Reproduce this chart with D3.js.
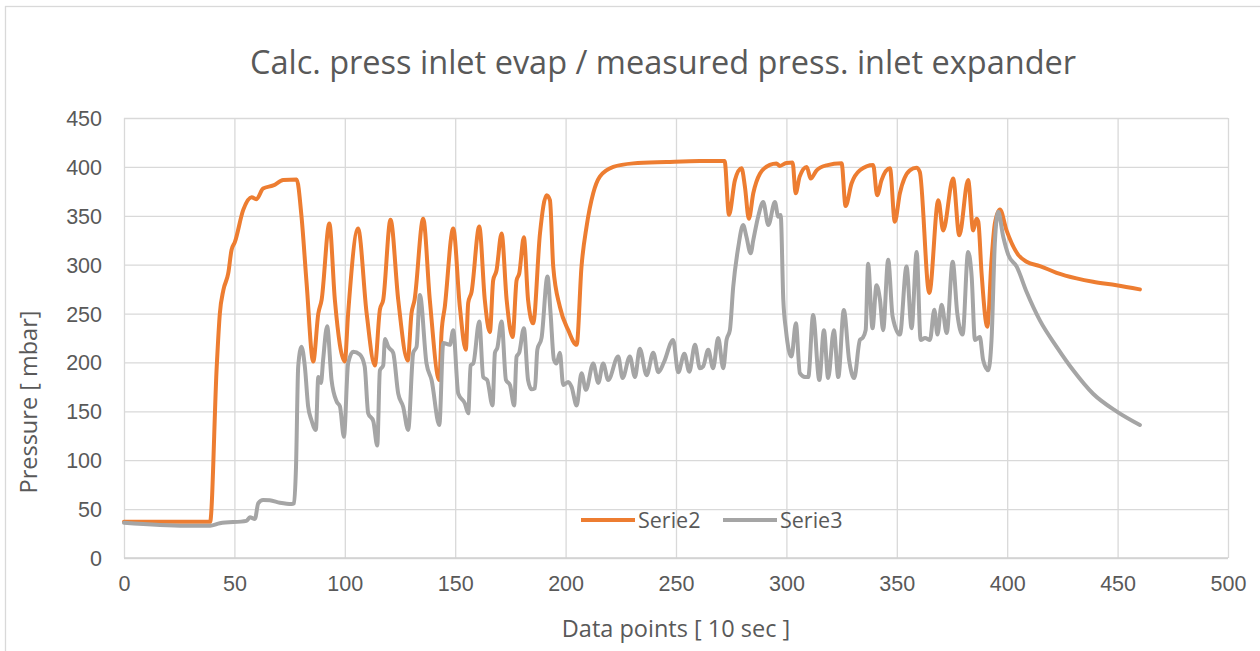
<!DOCTYPE html>
<html>
  <head>
    <meta charset="utf-8">
    <script src="https://cdn.jsdelivr.net/npm/d3@7"></script>
    <title>Calc. press inlet evap</title>
    <style type="text/css">
      body { margin: 0; background: #fff; }
      svg { display: block; font-family: 'Open Sans', sans-serif; }
      .grid line { stroke: #d9d9d9; stroke-width: 1.3; }
      .grid path { display: none; }
      .tick text { fill: #595959; }
      .series { fill: none; stroke-width: 4; stroke-linejoin: round; stroke-linecap: round; }
    </style>
  </head>
  <body>
    <div id="chart"></div>
    <script type="text/javascript">
      var title = "Calc. press inlet evap / measured press. inlet expander",
          xTitle = "Data points [ 10 sec ]",
          yTitle = "Pressure [ mbar]";

      var xTicks = [0, 50, 100, 150, 200, 250, 300, 350, 400, 450, 500],
          yTicks = [0, 50, 100, 150, 200, 250, 300, 350, 400, 450];

      var seriesNames = ["Serie2", "Serie3"],
          seriesColors = ["#ed7d31", "#a5a5a5"];

      // [data point, pressure]
      var serie2 = [[0,37],[39,37],[42,196],[43.4,250],[45,274],[47.2,291],[48.7,315],[50.2,323],[54,356],
        [57.8,369],[60,367],[63,378],[67.6,381],[72.1,386.5],[78.2,387],[80.4,349],[82.7,281],[85.7,201],
        [88,250],[89.5,264],[93,342],[95.5,264],[100,201],[101.5,250],[106,337],[109.9,250],[113.6,197],
        [115.9,254],[117.4,264],[120.7,346],[124.2,264],[128.5,202],[130.2,250],[131.6,264],[135.5,347],
        [138.5,264],[142.8,182],[143.8,230],[145.3,257],[149.1,337],[152.1,257],[154.8,213],[155.9,261],
        [157.4,272],[160.9,339],[163.4,264],[165.7,231],[167.2,284],[168.7,294],[171,332],[173.3,264],
        [176,226],[177.8,284],[179,291],[181.1,328],[183,264],[185.3,240],[188.4,332],[191.4,371],
        [192.9,366],[194.4,298],[197.4,257],[201.2,233],[205,218],[207.2,298],[209.5,339],[212.5,373],
        [215.5,390],[221.6,400],[230.6,403.6],[245.7,405],[260.8,406],[272,406],[274,351],[276.7,386.5],
        [279.7,398.5],[281.2,380],[283,347],[285,373],[288,393],[292.5,402],[295.5,403.5],[297,401],
        [300,404],[302.8,404.5],[304.2,373],[306,390],[309.2,400],[311,388],[313.7,396.5],[318.2,401.6],
        [325,403.6],[326.8,360],[329.5,383],[333.3,396.5],[339.3,402],[341.1,371],[343.1,386.5],
        [346.9,398.5],[349.1,344],[351.4,373],[355.9,396.5],[358.9,399],[360.4,395],[364.7,271],
        [368.8,366],[371,335],[375.5,388],[378.3,330],[382.3,386.5],[384.6,335],[386.1,347],[386.9,344],
        [388.4,291],[391,236.5],[392.9,304.7],[394.4,342],[396.7,356.5],[399.7,335],[405,310],[408.8,303],
        [414.8,298.6],[422.4,291.7],[431.4,286],[438.9,282.5],[449.5,279],[460.1,274.7]];

      var serie3 = [[0,36],[28,33],[39,33],[43.4,35.5],[55.5,38],[57,41.6],[59.3,40],[60.8,56],[63,59.3],
        [66,59],[70.6,56.6],[75.9,55.2],[77,56],[77.9,93],[78.9,196],[80.4,216],[81.9,196],[83.4,155],
        [84.9,141],[86.9,131],[88,185],[89.2,179],[90.2,203],[92,237],[94,182],[96.3,160],[97.8,155],
        [99.6,124],[101.5,199],[103.8,211],[106.8,208],[109,196],[110.6,148],[112.9,140],[114.7,115],
        [115.9,192],[117.4,197],[118.2,224],[119.7,216],[121.9,210],[124.2,168],[126.4,155],[128.7,131],
        [131,210],[132.5,216],[134,269],[137,199],[139.3,182],[142.8,136],[144.6,220],[147.6,218],
        [149.1,233],[151.4,168],[154.4,158],[155.9,148],[157,197],[158.2,199],[160.9,242],[162.7,185],
        [164.5,182],[166.9,156],[168,210],[169.1,215],[171,242],[173,182],[174.8,177],[176.7,156],
        [177.8,206],[179,210],[181.1,235],[183,182],[184.6,172.5],[186.1,173.5],[187.2,213],[189.1,225],
        [191.8,288],[193.2,250],[194.7,203],[195.9,199],[197.4,210],[198.9,177],[201.2,180],[202.7,175],
        [205,156],[207.2,189],[209.2,172],[212.5,199],[214.8,179],[217,199],[219.3,182],[223.8,206],
        [225.8,184],[229.1,206],[231.4,185],[233.6,214],[236.7,187],[239.7,210],[242,190],[244.5,200],
        [248.7,223],[251,190],[253.8,209],[256,190.5],[258.6,218],[260.8,194],[262.3,196],[264.6,213],
        [266.8,194],[269.1,225],[271.4,194],[272.9,223],[274.4,233],[275.9,277],[278.2,318],[280.4,340.5],
        [281.9,328.5],[283.8,311.6],[285,325],[287.2,349],[289.5,364],[291.8,340.5],[294.8,364],
        [296.3,349],[297.4,350.7],[298.6,264],[299.8,233],[302.3,206],[304.3,240],[306.1,189],[308.4,185],
        [309.9,185],[312.1,248.5],[314.9,182],[317,233],[318.9,184],[321.5,233],[323.5,185],[326,253.6],
        [328.4,202.5],[330.7,184],[333.3,223],[334.5,225],[335.9,233],[337,301],[339,235],[340.8,279],
        [342.4,264],[343.8,233],[346.1,305],[348.1,247],[351.4,228.5],[354.4,298],[356.7,235],[359,313],
        [360.8,223],[362.8,225],[365,223],[367,254],[368.4,228.5],[370.3,259],[372.6,230],[375.3,303],
        [377.4,250],[379.8,228.5],[382.3,313],[383.9,288],[385.4,223],[387.6,226],[389.1,202.5],
        [391.4,192],[392.9,223],[394.4,322],[395.9,354],[398.2,328.5],[400.5,310],[404.3,298],
        [408.8,272],[414.8,243],[422.4,216],[429.9,192],[438.9,168],[449.5,150],[460.1,136]];

      var width = 1260,
          height = 651,
          margin = {top: 118, right: 32, bottom: 93, left: 124},
          innerW = width - margin.left - margin.right,
          innerH = height - margin.top - margin.bottom,
          textColor = "#595959";

      var svg = d3.select("#chart")
        .append("svg")
        .attr("width", width)
        .attr("height", height);

      // chart area border (cut off at right and bottom in the source)
      svg.append("rect")
        .attr("x", 5.5).attr("y", 6.5)
        .attr("width", 1400).attr("height", 800)
        .attr("fill", "none")
        .attr("stroke", "#d9d9d9")
        .attr("stroke-width", 1.3);

      var g = svg.append("g")
        .attr("transform", "translate(" + margin.left + "," + margin.top + ")");

      var x = d3.scaleLinear().domain([0, 500]).range([0, innerW]),
          y = d3.scaleLinear().domain([0, 450]).range([innerH, 0]);

      g.append("g")
        .attr("class", "grid")
        .call(d3.axisLeft(y).tickValues(yTicks).tickSize(-innerW).tickPadding(22))
        .selectAll("text")
          .attr("font-size", 21.5)
          .attr("dy", "0.35em");

      g.append("g")
        .attr("class", "grid")
        .attr("transform", "translate(0," + innerH + ")")
        .call(d3.axisBottom(x).tickValues(xTicks).tickSize(-innerH).tickPadding(25))
        .selectAll("text")
          .attr("font-size", 21.5)
          .attr("dy", "0.35em");

      // horizontal axis line
      g.append("line")
        .attr("x1", 0).attr("x2", innerW)
        .attr("y1", y(0)).attr("y2", y(0))
        .attr("stroke", "#d0d0d0")
        .attr("stroke-width", 1.6);

      var line = d3.line()
        .curve(d3.curveMonotoneX)
        .x(function(d) { return x(d[0]); })
        .y(function(d) { return y(d[1]); });

      [serie2, serie3].forEach(function(s, i) {
        g.append("path")
          .datum(s)
          .attr("class", "series")
          .attr("stroke", seriesColors[i])
          .attr("d", line);
      });

      // legend
      var legendX = [581, 723];
      seriesNames.forEach(function(name, i) {
        var lg = svg.append("g").attr("transform", "translate(" + legendX[i] + ",520)");
        lg.append("line")
          .attr("x1", 0).attr("x2", 54)
          .attr("stroke", seriesColors[i])
          .attr("stroke-width", 4);
        lg.append("text")
          .attr("x", 57)
          .attr("dy", "0.35em")
          .attr("font-size", 21.5)
          .attr("fill", textColor)
          .text(name);
      });

      svg.append("text")
        .attr("x", 663)
        .attr("y", 74)
        .attr("text-anchor", "middle")
        .attr("font-size", 32.5)
        .attr("fill", textColor)
        .text(title);

      svg.append("text")
        .attr("x", 676)
        .attr("y", 637)
        .attr("text-anchor", "middle")
        .attr("font-size", 23.5)
        .attr("fill", textColor)
        .text(xTitle);

      svg.append("text")
        .attr("transform", "translate(37,402) rotate(-90)")
        .attr("text-anchor", "middle")
        .attr("font-size", 23.5)
        .attr("fill", textColor)
        .text(yTitle);
    </script>
  </body>
</html>
